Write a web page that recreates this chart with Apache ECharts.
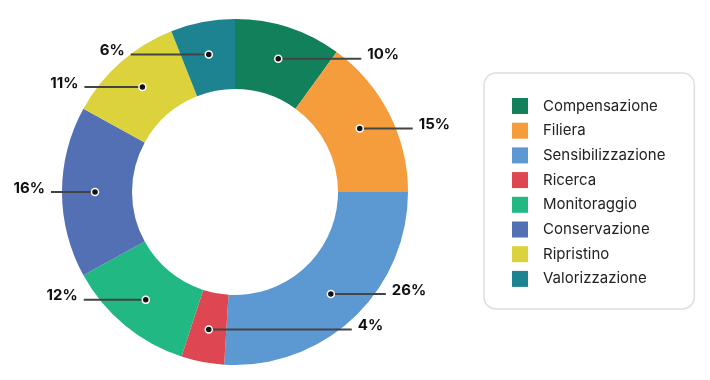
<!DOCTYPE html>
<html><head><meta charset="utf-8">
<script src="https://cdn.jsdelivr.net/npm/echarts@6/dist/echarts.min.js"></script>
<style>html,body{margin:0;padding:0;background:#fff}#c{width:710px;height:380px}</style>
</head><body><div id="c"></div>
<script>
// ---- data ----
const categories = ['Compensazione','Filiera','Sensibilizzazione','Ricerca','Monitoraggio','Conservazione','Ripristino','Valorizzazione'];
const values = [10, 15, 26, 4, 12, 16, 11, 6];

// ---- styling ----
const colors = ['#12805A','#F59C3C','#5C98D2','#DE4651','#22B884','#5470B5','#DCD23B','#1E8390'];
const labelSide = [1, 1, 1, 1, -1, -1, -1, -1];
const leaderLength = [83, 53, 55, 143, 62, 44, 58, 78];

const CENTER = [235, 192], R_OUT = 173, R_IN = 103, R_MID = 140;
const FONT = 'Inter';

const total = values.reduce((a, b) => a + b, 0);
let cum = 0;
const mids = values.map(v => { const m = cum + v / 2; cum += v; return m; });
const pieData = categories.map((n, i) => ({ name: n, value: values[i] }));

const chart = echarts.init(document.getElementById('c'), null, { renderer: 'canvas' });
chart.setOption({
  animation: false,
  color: colors,
  legend: {
    orient: 'vertical', left: 484, top: 73,
    data: categories,
    icon: 'rect', itemWidth: 16, itemHeight: 16, itemGap: 8.7,
    padding: [25, 29, 22, 28],
    backgroundColor: '#fff', borderColor: '#dedede', borderWidth: 1.5, borderRadius: 12,
    selectedMode: false,
    textStyle: { fontSize: 15, color: '#222', fontFamily: FONT, lineHeight: 16, padding: [0, 0, 0, 10] }
  },
  polar: { center: CENTER, radius: R_OUT },
  angleAxis: { type: 'value', min: 0, max: total, startAngle: 90, clockwise: true, show: false },
  radiusAxis: { type: 'value', min: 0, max: R_OUT, show: false },
  series: [
    {
      type: 'pie', center: CENTER, radius: [R_IN, R_OUT], startAngle: 90, clockwise: true,
      silent: true, label: { show: false }, labelLine: { show: false },
      data: pieData
    },
    {
      type: 'pie', center: CENTER, radius: [0, R_MID], startAngle: 90, clockwise: true,
      silent: true, avoidLabelOverlap: false, legendHoverLink: false, z: 3,
      itemStyle: { color: 'rgba(0,0,0,0)' },
      label: {
        show: true, position: 'outside', formatter: p => p.value + '%',
        fontFamily: FONT, fontSize: 15, fontWeight: 'bold', color: '#111'
      },
      labelLine: { show: true, length: 5, length2: 5, smooth: false, lineStyle: { color: '#444', width: 2 } },
      labelLayout: function (p) {
        const i = p.dataIndex;
        const pts = p.labelLinePoints;
        if (!pts) return {};
        const x0 = pts[0][0], y0 = pts[0][1];
        const s = labelSide[i], L = leaderLength[i];
        const x1 = x0 + s * L;
        return {
          x: x1 + s * 6, y: y0 - 4,
          align: s > 0 ? 'left' : 'right', verticalAlign: 'middle',
          labelLinePoints: [[x0, y0], [(x0 + x1) / 2, y0], [x1, y0]]
        };
      },
      data: pieData
    },
    {
      type: 'scatter', coordinateSystem: 'polar', silent: true, z: 5,
      symbol: 'circle', symbolSize: 7,
      itemStyle: { color: '#111', borderColor: '#fff', borderWidth: 1.5, opacity: 1 },
      data: mids.map(m => [R_MID, m])
    }
  ]
});
</script>
</body></html>
